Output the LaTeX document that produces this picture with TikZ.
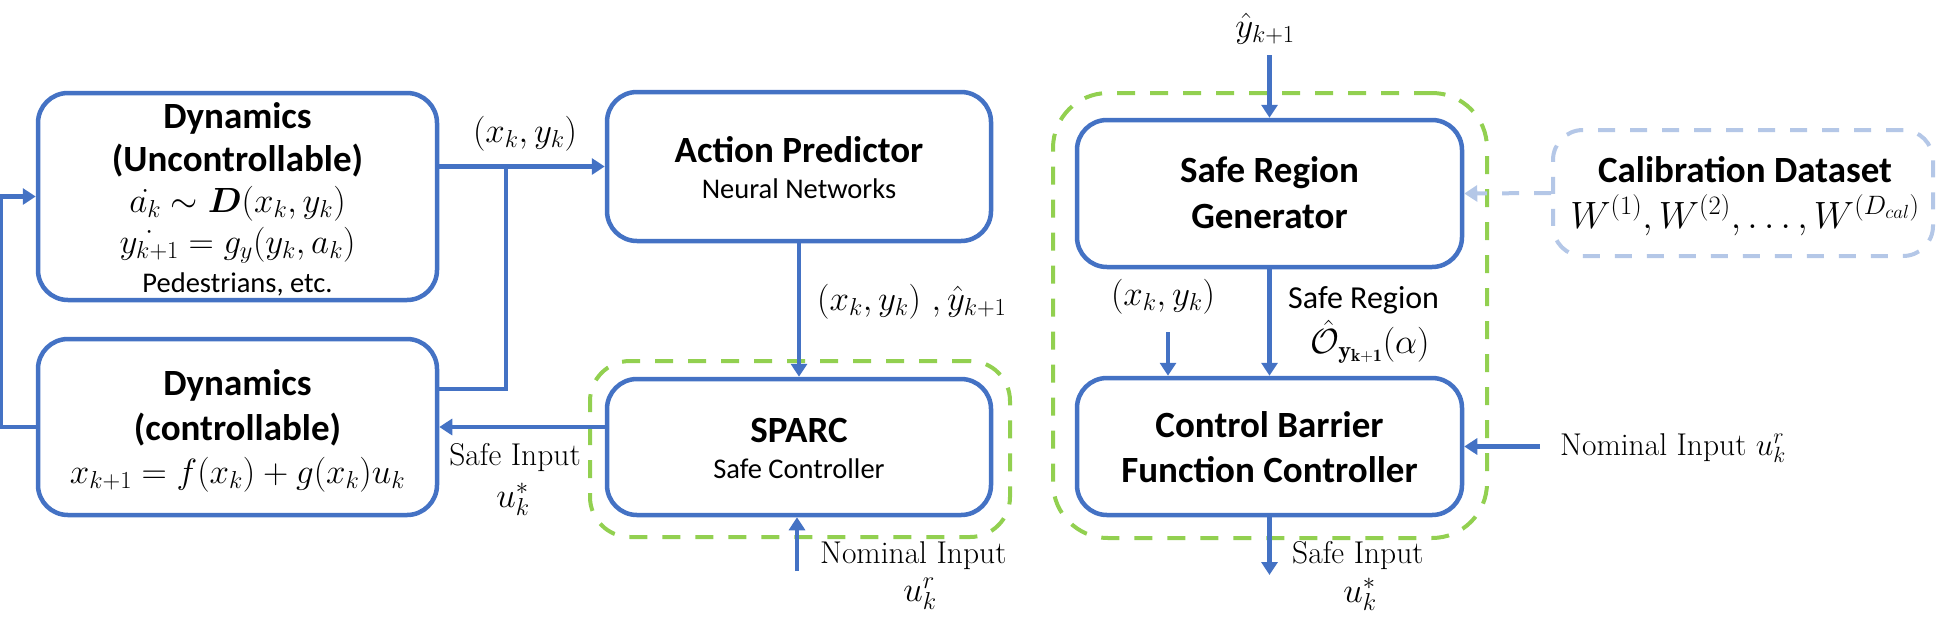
\RequirePackage{fix-cm}
\documentclass[tikz,border=0pt]{standalone}
\usepackage{amsmath}
\usepackage{fontspec}
\setsansfont{Carlito}
\usetikzlibrary{arrows.meta,calc}
\definecolor{cbl}{HTML}{4472C4}
\definecolor{cgr}{HTML}{92D050}
\definecolor{clb}{HTML}{B4C7E7}
\newcommand\FBold{\sffamily\bfseries\fontsize{37}{44}\selectfont}
\newcommand\FReg{\sffamily\fontsize{28.5}{34}\selectfont}
\newcommand\FRegL{\sffamily\fontsize{32}{38}\selectfont}
\newcommand\FMath{\fontsize{35}{42}\selectfont}
\newcommand\FMathL{\fontsize{38}{44}\selectfont}
\newcommand\FSerif{\rmfamily\fontsize{31.5}{38}\selectfont}
\begin{document}
\begin{tikzpicture}[x=1pt,y=-1pt,
  box/.style={draw=cbl, line width=4.5pt, rounded corners=30pt, fill=white, inner sep=0pt},
  gbox/.style={draw=cgr, line width=4pt, dash pattern=on 18pt off 15pt, rounded corners=#1, inner sep=0pt},
  cbox/.style={draw=clb, line width=4pt, dash pattern=on 17pt off 15pt, rounded corners=30pt, inner sep=0pt},
  arr/.style={draw=cbl, line width=4.5pt, -{Triangle[length=13pt,width=16pt]}},
  darr/.style={draw=clb, line width=4pt, dash pattern=on 17pt off 15pt, -{Triangle[length=13pt,width=16pt]}},
  wire/.style={draw=cbl, line width=4.5pt},
  txt/.style={inner sep=0pt, anchor=base},
  ltxt/.style={inner sep=0pt, anchor=base west}]
\useasboundingbox (0,0) rectangle (1938,622);

% green dashed groups
\node[gbox=40pt, minimum width=420pt, minimum height=176pt] (grp1) at (800,449) {};
\node[gbox=55pt, minimum width=434pt, minimum height=445pt] (grp2) at (1270,315.5) {};

% boxes
\node[box, minimum width=399pt, minimum height=207pt] (dynU) at (237.5,196.5) {};
\node[box, minimum width=399pt, minimum height=176pt] (dynC) at (237.5,427) {};
\node[box, minimum width=384pt, minimum height=149pt] (AP) at (799,166.5) {};
\node[box, minimum width=384pt, minimum height=136pt] (SPARC) at (799,447) {};
\node[box, minimum width=385pt, minimum height=147pt] (SRG) at (1269.5,193.5) {};
\node[box, minimum width=385pt, minimum height=137pt] (CBF) at (1269.5,446.5) {};
\node[cbox, fill=white, minimum width=380pt, minimum height=126pt] (Cal) at (1743,193) {};

% box texts
\node[txt] (dUa) at (237.5,128) {\FBold Dynamics};
\node[txt] (dUb) at (237.5,171) {\FBold (Uncontrollable)};
\node[txt] (dUc) at (237.5,212) {\FMath $\dot{a_k}\sim\boldsymbol{D}(x_k,y_k)$};
\node[txt] (dUd) at (237.5,253) {\FMath $\dot{y_{k+1}}=g_y(y_k,a_k)$};
\node[txt] (dUe) at (237.5,292) {\FReg Pedestrians, etc.};

\node[txt] (dCa) at (237.5,395) {\FBold Dynamics};
\node[txt] (dCb) at (237.5,440) {\FBold (controllable)};
\node[txt] (dCc) at (237.5,483) {\FMath $x_{k+1}=f(x_k)+g(x_k)u_k$};

\node[txt] (APa) at (799,162) {\FBold Action Predictor};
\node[txt] (APb) at (799,198) {\FReg Neural Networks};

\node[txt] (SPa) at (799,442) {\FBold SPARC};
\node[txt] (SPb) at (799,478) {\FReg Safe Controller};

\node[txt] (SRa) at (1269.5,182) {\FBold Safe Region};
\node[txt] (SRb) at (1269.5,228) {\FBold Generator};

\node[txt] (CBa) at (1269.5,437) {\FBold Control Barrier};
\node[txt] (CBb) at (1269.5,482) {\FBold Function Controller};

\node[txt] (Caa) at (1745,182) {\FBold Calibration Dataset};
\node[txt] (Cab) at (1745,228) {\FMathL $W^{(1)},W^{(2)},\dots,W^{(D_{cal})}$};

% connectors
\draw[arr] (dynC.west) -- ++(-35,0) |- (dynU.west);
\draw[arr] (dynU.east |- AP.west) -- (AP.west);
\coordinate (junc) at (506,166.5);
\draw[wire] (junc) |- ($(dynC.east)+(0,-38)$);
\draw[arr] (AP.south) -- (SPARC.north);
\draw[arr] (SPARC.west |- dynC.east) -- (dynC.east);
\coordinate (nomB) at (797,571);
\draw[arr] (nomB) -- (nomB |- SPARC.south);

\coordinate (yIn) at (1269.5,55);
\draw[arr] (yIn) -- (SRG.north);
\draw[arr] (SRG.south) -- (CBF.north);
\coordinate (xIn) at (1168,332);
\draw[arr] (xIn) -- (xIn |- CBF.north);
\coordinate (cOut) at (1269.5,575);
\draw[arr] (CBF.south) -- (cOut);
\coordinate (nomR) at (1540,446.5);
\draw[arr] (nomR) -- (CBF.east);
\draw[darr] (Cal.west) -- (SRG.east);

% labels
\node[txt] (l1) at (525,142) {\FMath $(x_k,y_k)$};
\node[ltxt] (l2) at (817,310) {\FMath $(x_k,y_k)\ ,\hat{y}_{k+1}$};
\node[txt] (l3) at (515,465) {\FSerif Safe Input};
\node[txt] (l4) at (513,507) {\FMath $u_k^*$};
\node[ltxt] (l5) at (820,563) {\FSerif Nominal Input};
\node[txt] (l6) at (920,601) {\FMath $u_k^r$};
\node[txt] (l7) at (1265,37) {\FMath $\hat{y}_{k+1}$};
\node[txt] (l8) at (1163,305) {\FMath $(x_k,y_k)$};
\node[ltxt] (l9) at (1288,308) {\FRegL Safe Region};
\node[txt] (l10) at (1370,353) {\FMath $\hat{\mathcal{O}}_{\mathbf{y}_{\mathbf{k+1}}}(\alpha)$};
\node[ltxt] (l11) at (1292,563) {\FSerif Safe Input};
\node[txt] (l12) at (1360,602) {\FMath $u_k^*$};
\node[ltxt] (l13) at (1560,455) {\FSerif Nominal Input $u_k^r$};
\end{tikzpicture}
\end{document}
